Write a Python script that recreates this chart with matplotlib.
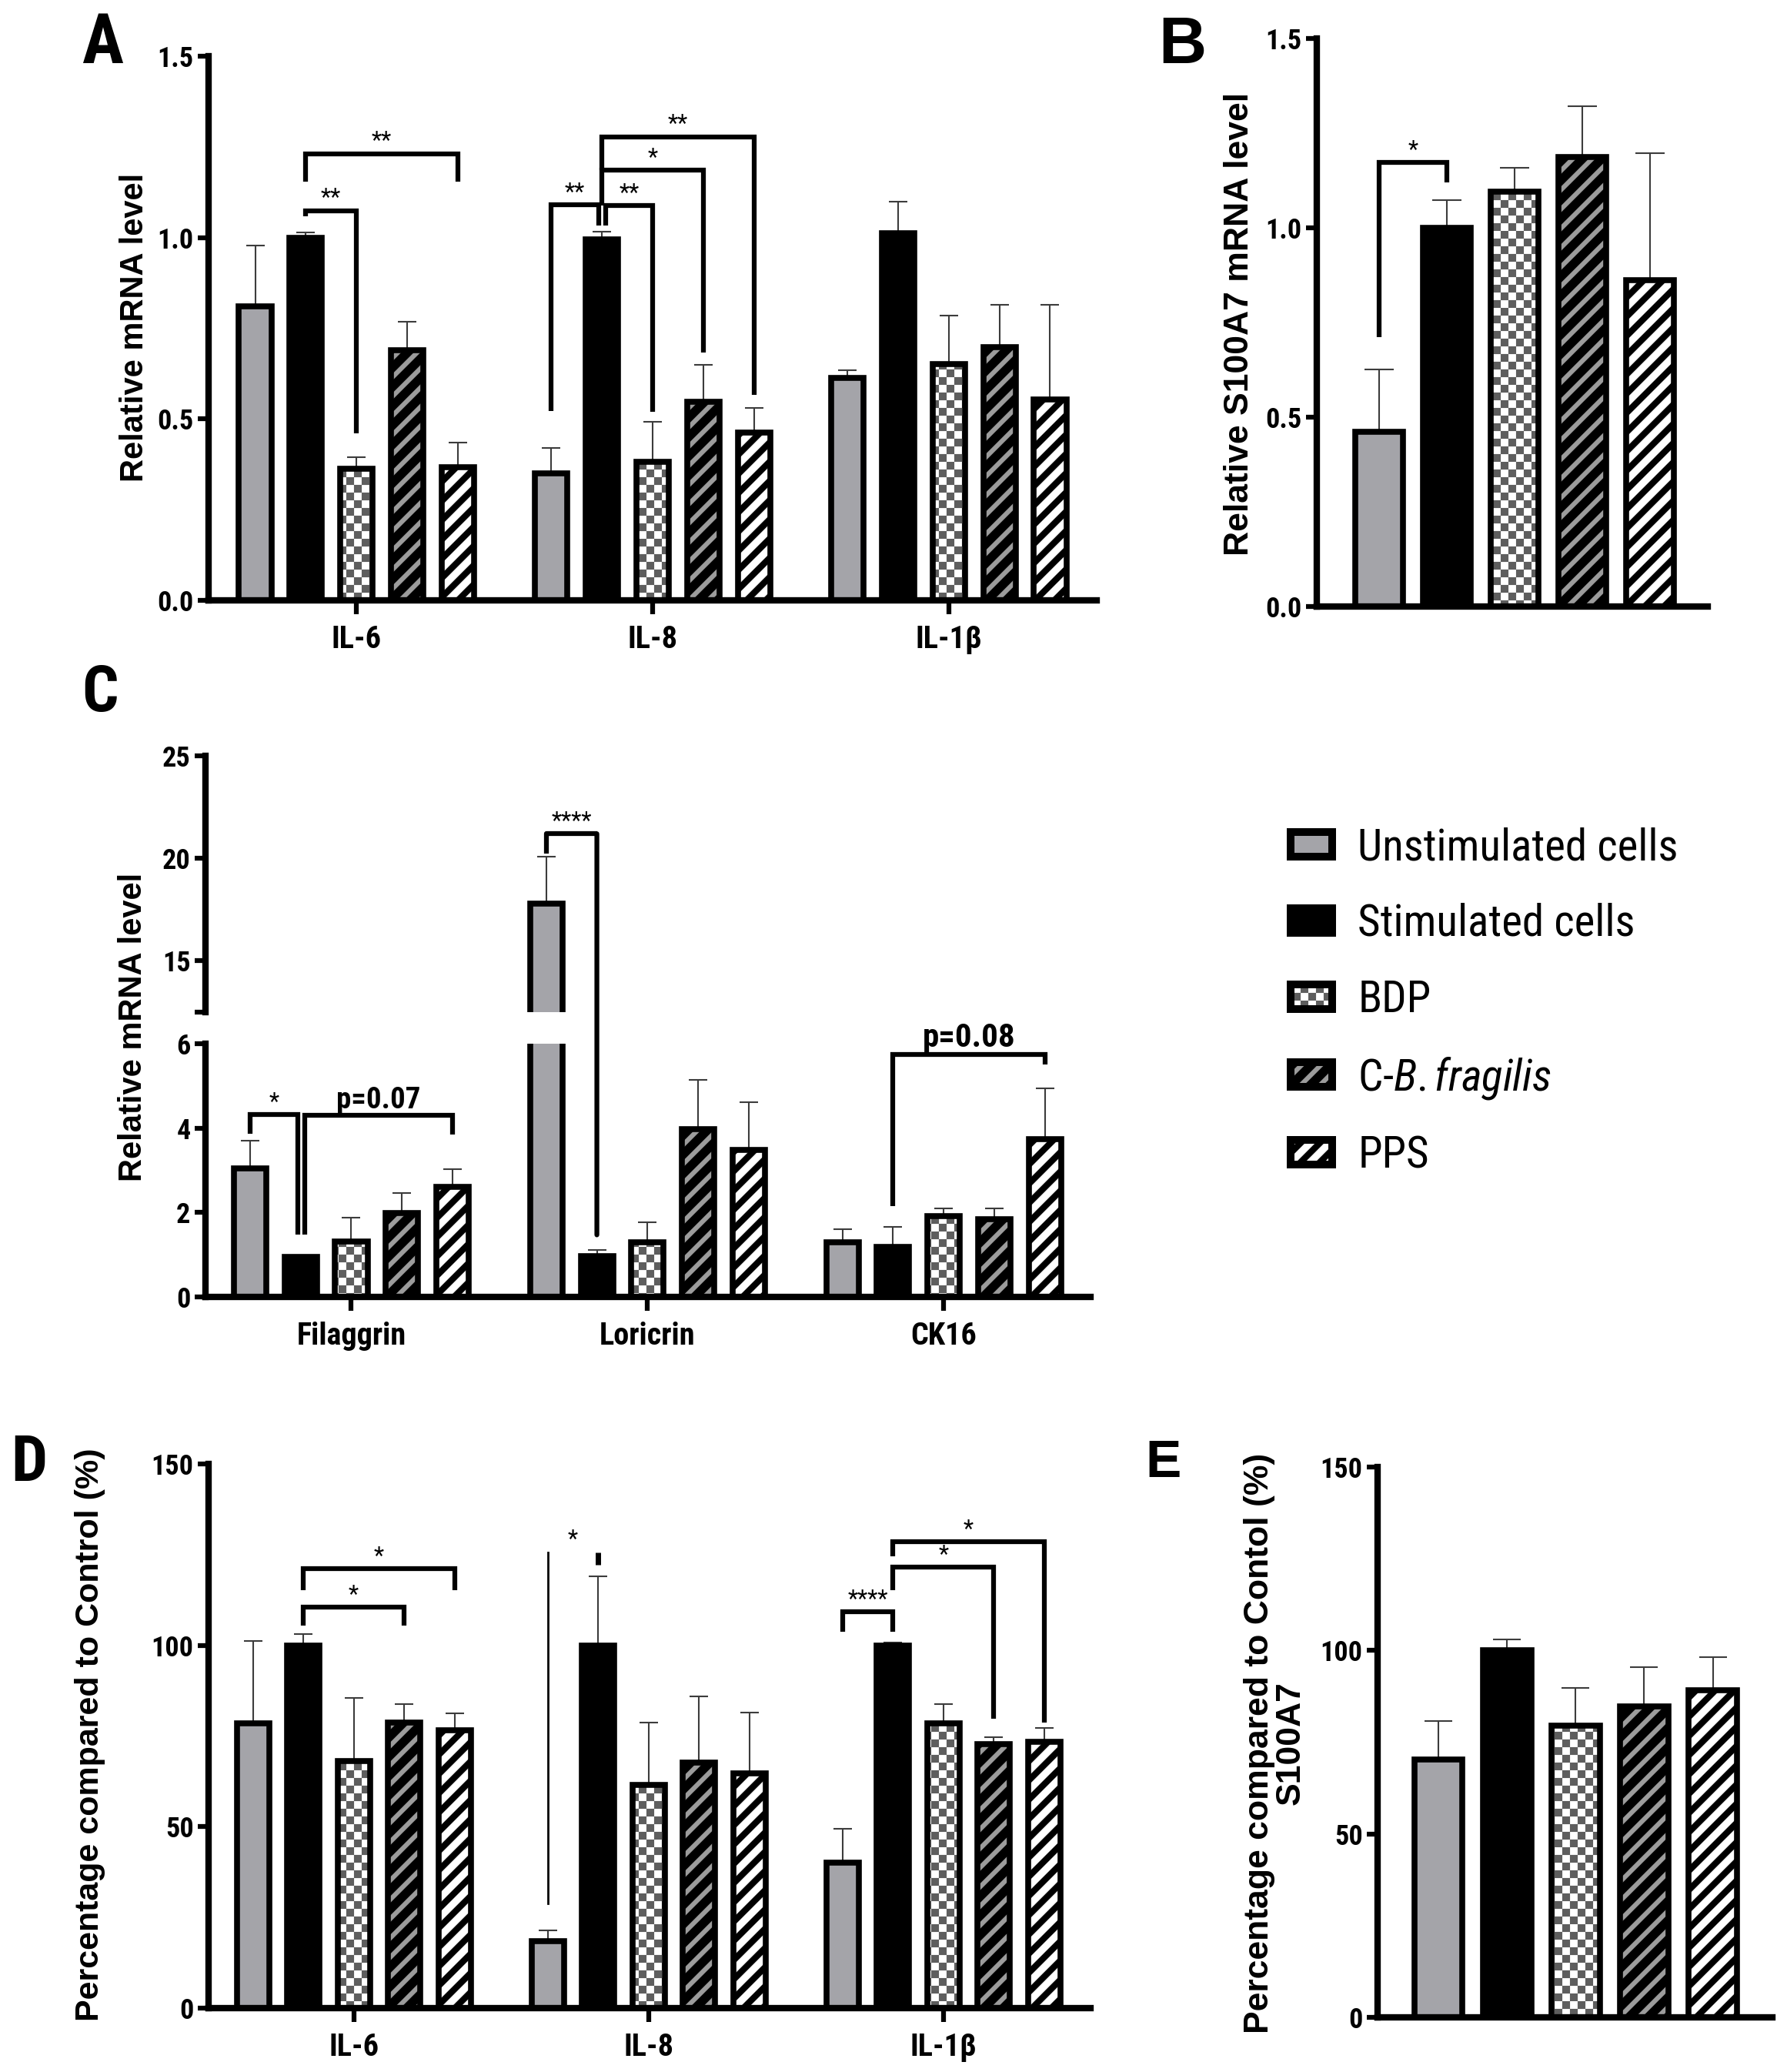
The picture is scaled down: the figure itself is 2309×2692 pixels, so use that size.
import warnings
import numpy as np
import matplotlib
matplotlib.use("Agg")
from matplotlib import pyplot as plt
from matplotlib import font_manager as fm
import matplotlib.hatch as mhatch
from matplotlib.path import Path
from matplotlib.patches import Patch, ConnectionPatch
from matplotlib.legend_handler import HandlerTuple

warnings.filterwarnings("ignore", message=".*hatch must consist.*")

# ---- data ----
legend_labels = ["Unstimulated cells", "Stimulated cells", "BDP",
                 r"C-$\mathit{B.fragilis}$", "PPS"]

cytokines = ["IL-6", "IL-8", "IL-1β"]
a_mean = [[0.81, 1.00, 0.363, 0.689, 0.366],
          [0.351, 0.996, 0.381, 0.547, 0.462],
          [0.614, 1.012, 0.651, 0.697, 0.553]]
a_err = [[0.168, 0.015, 0.032, 0.080, 0.069],
         [0.069, 0.020, 0.112, 0.102, 0.068],
         [0.021, 0.088, 0.133, 0.117, 0.261]]

b_mean = [0.461, 1.0, 1.096, 1.186, 0.862]
b_err = [0.165, 0.073, 0.063, 0.135, 0.335]

barrier = ["Filaggrin", "Loricrin", "CK16"]
c_mean = [[3.05, 0.94, 1.31, 1.99, 2.60],
          [17.8, 0.97, 1.29, 3.97, 3.49],
          [1.29, 1.18, 1.92, 1.85, 3.73]]
c_err = [[0.65, 0.05, 0.57, 0.48, 0.43],
         [2.30, 0.15, 0.48, 1.18, 1.12],
         [0.32, 0.48, 0.18, 0.25, 1.22]]

d_mean = [[78.4, 100, 68.1, 78.8, 76.5],
          [18.5, 100, 61.6, 67.7, 64.8],
          [40.1, 100, 78.4, 72.7, 73.5]]
d_err = [[22.8, 3.2, 17.3, 5.1, 4.8],
         [3.0, 19.0, 17.2, 18.2, 16.6],
         [9.3, 0.8, 5.5, 2.0, 3.8]]

e_mean = [70.3, 100, 79.6, 84.7, 89.2]
e_err = [10.4, 3.0, 10.1, 10.7, 9.0]

# significance brackets: (group, from bar, to bar, bar height, left leg end, right leg end, text)
a_brackets = [(0, 1, 2, 1.074, 1.058, 0.46, "**"),
              (0, 1, 4, 1.231, 1.155, 1.155, "**"),
              (1, 0, 0.93, 1.09, 0.522, 1.034, "**"),
              (1, 1.07, 2, 1.088, 1.034, 0.52, "**"),
              (1, 1, 3, 1.185, 1.088, 0.683, "*"),
              (1, 1, 4, 1.278, 1.185, 0.566, "**")]
b_brackets = [(0, 0, 1, 1.173, 0.712, 1.119, "*")]
c_brackets = [(0, 0, 0.94, 4.32, 3.86, 1.47, "*"),
              (0, 1.08, 4, 4.30, 1.47, 3.84, "p=0.07"),
              (2, 1, 4, 5.74, 2.15, 5.50, "p=0.08")]
d_brackets = [(0, 1, 3, 110.5, 105.5, 105.5, "*"),
              (0, 1, 4, 121.1, 115.3, 115.3, "*"),
              (2, 0, 1, 109.3, 103.8, 103.8, "****"),
              (2, 1, 3, 121.5, 115.3, 79.8, "*"),
              (2, 1, 4, 128.5, 124.6, 78.7, "*")]


# ---- fonts: pick a narrow sans that is really installed ----
def font_file(**kw):
    try:
        return fm.findfont(fm.FontProperties(**kw), fallback_to_default=False)
    except ValueError:
        return None


NARROW, NARROW_STRETCH = "DejaVu Sans", "normal"
for fam in ("Liberation Sans Narrow", "Roboto Condensed", "Open Sans Condensed"):
    if font_file(family=fam):
        NARROW = fam
        break
else:
    path = font_file(family="DejaVu Sans", stretch="condensed") or ""
    if "Condensed" in path:
        NARROW_STRETCH = "condensed"
WIDE = "Liberation Sans" if font_file(family="Liberation Sans") else "DejaVu Sans"


# ---- custom hatches: checkerboard and wide diagonal bands ----
class CheckerHatch(mhatch.HatchPatternBase):
    def __init__(self, hatch, density):
        self.n = 10 if "c" in hatch else 0
        self.num_vertices = (self.n * self.n // 2) * 5

    def set_vertices_and_codes(self, vertices, codes):
        s = 1.0 / self.n
        k = 0
        for r in range(self.n):
            for c in range(self.n):
                if (r + c) % 2:
                    continue
                x0, y0 = c * s, r * s
                vertices[k:k + 5] = [(x0, y0), (x0 + s, y0), (x0 + s, y0 + s),
                                     (x0, y0 + s), (x0, y0)]
                codes[k:k + 5] = [Path.MOVETO, Path.LINETO, Path.LINETO,
                                  Path.LINETO, Path.CLOSEPOLY]
                k += 5


class BandHatch(mhatch.HatchPatternBase):
    specs = {"s": (4, 0.085), "p": (4, 0.115)}

    def __init__(self, hatch, density):
        self.spec = next((self.specs[ch] for ch in hatch if ch in self.specs), None)
        self.num_vertices = (2 * self.spec[0] + 1) * 5 if self.spec else 0

    def set_vertices_and_codes(self, vertices, codes):
        n, w = self.spec
        k = 0
        for i in range(-n, n + 1):
            c = i / n
            vertices[k:k + 5] = [(-1, -1 + c - w / 2), (2, 2 + c - w / 2),
                                 (2, 2 + c + w / 2), (-1, -1 + c + w / 2),
                                 (-1, -1 + c - w / 2)]
            codes[k:k + 5] = [Path.MOVETO, Path.LINETO, Path.LINETO,
                              Path.LINETO, Path.CLOSEPOLY]
            k += 5


mhatch._hatch_types.append(CheckerHatch)
mhatch._hatch_types.append(BandHatch)

plt.rcParams["font.family"] = [NARROW, "DejaVu Sans"]
plt.rcParams["font.stretch"] = NARROW_STRETCH
plt.rcParams["font.weight"] = "bold"
plt.rcParams["hatch.linewidth"] = 0.1
plt.rcParams["mathtext.fontset"] = "custom"
plt.rcParams["mathtext.it"] = f"{NARROW}:italic:{NARROW_STRETCH}"
plt.rcParams["mathtext.rm"] = f"{NARROW}:{NARROW_STRETCH}"

styles = [dict(face="#a4a4a9", hatch=None, hc=None),
          dict(face="black", hatch=None, hc=None),
          dict(face="white", hatch="c", hc="#5e5e5e"),
          dict(face="black", hatch="s", hc="#9c9c9c"),
          dict(face="white", hatch="p", hc="black")]

BAR_LW = 5.5
ERR_COLOR = "#3c3c3c"
GROUP_STEP = 5.85
gpos = np.arange(3) * GROUP_STEP

fig = plt.figure(figsize=(23.09, 26.92), dpi=100)


def frac(l, t, r, b):
    W, H = 2309, 2692
    return [l / W, 1 - b / H, (r - l) / W, (b - t) / H]


def style_axes(ax):
    for s in ("top", "right"):
        ax.spines[s].set_visible(False)
    for s in ("left", "bottom"):
        ax.spines[s].set_linewidth(6)
    ax.tick_params(axis="y", length=10, width=4.5, labelsize=26, pad=4)
    ax.tick_params(axis="x", length=13, width=4.5, labelsize=29, pad=10)


def draw_condition(ax, x, heights, errs, st, width, capsize):
    heights = np.asarray(heights, dtype=float)
    errs = np.asarray(errs, dtype=float)
    ax.errorbar(x, heights, yerr=[np.zeros_like(errs), errs], fmt="none",
                ecolor=ERR_COLOR, elinewidth=1.5, capsize=capsize,
                capthick=1.5, zorder=1)
    ax.bar(x, heights, width, color=st["face"], edgecolor=st["hc"],
           hatch=st["hatch"], linewidth=0, zorder=2)
    ax.bar(x, heights, width, fill=False, edgecolor="black",
           linewidth=BAR_LW, zorder=3)


def draw_grouped(ax, means, errs):
    means = np.asarray(means)
    errs = np.asarray(errs)
    for i, st in enumerate(styles):
        draw_condition(ax, gpos + i - 2, means[:, i], errs[:, i], st, 0.64, 8.5)


def bracket(ax, x1, x2, y, y1, y2, text, size=22, weight="normal", lw=4.5):
    ax.plot([x1, x1, x2, x2], [y1, y, y, y2], color="black", lw=lw,
            solid_capstyle="butt", solid_joinstyle="miter", clip_on=False,
            zorder=4)
    ax.annotate(text, ((x1 + x2) / 2, y), xytext=(0, 1),
                textcoords="offset points", ha="center", va="bottom",
                fontsize=size, fontweight=weight, annotation_clip=False)


def grouped_brackets(ax, specs, base, **kw):
    for g, i, j, y, y1, y2, text in specs:
        extra = {}
        if text.startswith("p="):
            extra = dict(size=31 if text.endswith("8") else 28, weight="bold")
        bracket(ax, base[g] + i - 2, base[g] + j - 2, y, y1, y2, text,
                **extra, **kw)


# ---- panel A ----
axA = fig.add_axes(frac(271, 73, 1425, 780))
style_axes(axA)
draw_grouped(axA, a_mean, a_err)
axA.set_xlim(-2.92, gpos[-1] + 2.92)
axA.set_ylim(0, 1.5)
axA.set_yticks([0, 0.5, 1.0, 1.5], ["0.0", "0.5", "1.0", "1.5"])
axA.set_xticks(gpos, cytokines)
grouped_brackets(axA, a_brackets, gpos)

# ---- panel B ----
axB = fig.add_axes(frac(1711, 50, 2219, 788))
style_axes(axB)
bx = np.arange(5)
for i, st in enumerate(styles):
    draw_condition(axB, bx[i], [b_mean[i]], [b_err[i]], st, 0.70, 14)
axB.set_xlim(-0.92, 4.85)
axB.set_ylim(0, 1.5)
axB.set_yticks([0, 0.5, 1.0, 1.5], ["0.0", "0.5", "1.0", "1.5"])
axB.set_xticks([])
grouped_brackets(axB, b_brackets, [2])

# ---- panel C (broken axis) ----
axCu = fig.add_axes(frac(267, 982, 1417, 1315))
axCl = fig.add_axes(frac(267, 1356, 1417, 1685))
for ax in (axCu, axCl):
    style_axes(ax)
    draw_grouped(ax, c_mean, c_err)
    ax.set_xlim(-2.88, gpos[-1] + 2.9)
axCu.set_ylim(12.5, 25)
axCu.set_yticks([15, 20, 25])
axCu.set_yticks([12.5], minor=True)
axCu.tick_params(axis="y", which="minor", length=10, width=4.5)
axCu.spines["bottom"].set_visible(False)
axCu.set_xticks([])
axCl.set_ylim(0, 6)
axCl.set_yticks([0, 2, 4, 6])
axCl.set_xticks(gpos, barrier)
grouped_brackets(axCl, c_brackets, gpos)

# Loricrin **** bracket crossing the break
xl_u, xl_s = gpos[1] - 2, gpos[1] - 1
axCu.plot([xl_u, xl_u, xl_s], [20.25, 21.2, 21.2], color="black", lw=4.5,
          solid_capstyle="butt", clip_on=False, zorder=4)
axCu.annotate("****", ((xl_u + xl_s) / 2, 21.2), xytext=(0, 1),
              textcoords="offset points", ha="center", va="bottom",
              fontsize=22, fontweight="normal")
fig.add_artist(ConnectionPatch((xl_s, 21.2), (xl_s, 1.47), "data", "data",
                               axesA=axCu, axesB=axCl, color="black", lw=4.5,
                               zorder=4))

# ---- panel D ----
axD = fig.add_axes(frac(271, 1902, 1417, 2609))
style_axes(axD)
draw_grouped(axD, d_mean, d_err)
axD.set_xlim(-2.88, gpos[-1] + 2.92)
axD.set_ylim(0, 150)
axD.set_yticks([0, 50, 100, 150])
axD.set_xticks(gpos, cytokines)
grouped_brackets(axD, d_brackets, gpos)
# IL-8 unstimulated vs stimulated
x8u, x8s = gpos[1] - 2, gpos[1] - 1
axD.plot([x8u, x8u], [28.8, 125.7], color="black", lw=2, clip_on=False)
axD.plot([x8s, x8s], [122.3, 125.7], color="black", lw=5, clip_on=False,
         solid_capstyle="butt")
axD.annotate("*", ((x8u + x8s) / 2, 125.7), xytext=(0, 1),
             textcoords="offset points", ha="center", va="bottom",
             fontsize=22, fontweight="normal")

# ---- panel E ----
axE = fig.add_axes(frac(1790, 1906, 2303, 2621))
style_axes(axE)
for i, st in enumerate(styles):
    draw_condition(axE, bx[i], [e_mean[i]], [e_err[i]], st, 0.70, 13)
axE.set_xlim(-0.89, 4.87)
axE.set_ylim(0, 150)
axE.set_yticks([0, 50, 100, 150])
axE.set_xticks([])

# ---- axis titles and panel letters ----
ylab = dict(family=WIDE, stretch="normal", weight="bold", rotation=90,
            ha="center", va="center")
fig.text(0.0758, 0.8421, "Relative mRNA level", fontsize=30, **ylab)
fig.text(0.6977, 0.8436, "Relative S100A7 mRNA level", fontsize=32, **ylab)
fig.text(0.0749, 0.5045, "Relative mRNA level", fontsize=30, **ylab)
fig.text(0.0507, 0.1627, "Percentage compared to Control (%)", fontsize=31, **ylab)
fig.text(0.7176, 0.1586, "Percentage compared to Contol (%)\nS100A7",
         fontsize=32, multialignment="center", linespacing=1.0, **ylab)

letters = [("A", 106, 82, 65, True),
           ("B", 1505, 82, 62, False),
           ("C", 106, 924, 60, True),
           ("D", 14, 1924, 60, True),
           ("E", 1488, 1919, 50, False)]
for txt, px, py, size, narrow in letters:
    fam = dict(family=NARROW, stretch=NARROW_STRETCH) if narrow else \
        dict(family=WIDE, stretch="normal")
    fig.text(px / 2309, 1 - py / 2692, txt, fontsize=size, weight="bold",
             ha="left", va="baseline", **fam)

# ---- legend ----
handles = []
for st in styles:
    fill = Patch(facecolor=st["face"], edgecolor=st["hc"], hatch=st["hatch"],
                 linewidth=0)
    edge = Patch(fill=False, edgecolor="black", linewidth=7.2)
    handles.append((fill, edge))
fig.legend(handles, legend_labels, loc="upper left",
           bbox_to_anchor=(0.7263, 0.6010), frameon=False, borderpad=0,
           borderaxespad=0, handlelength=0.95, handleheight=0.49,
           handletextpad=0.58, labelspacing=0.77,
           handler_map={tuple: HandlerTuple(ndivide=1)},
           prop=dict(family=NARROW, stretch=NARROW_STRETCH, size=41,
                     weight="normal"))

fig.savefig("out.png", dpi=100)
